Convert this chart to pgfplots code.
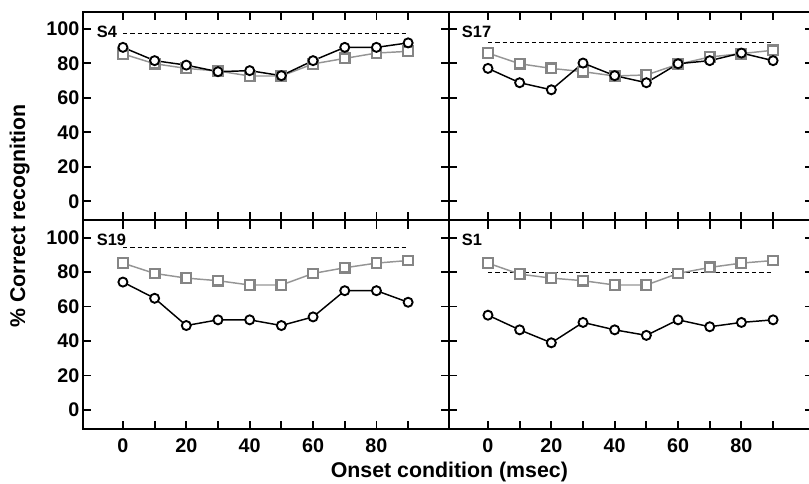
\documentclass[border=0pt]{standalone}
\usepackage{fontspec}
\setmainfont{Liberation Sans}
\usepackage{pgfplots}
\pgfplotsset{compat=1.18}
\definecolor{sqgray}{HTML}{858585}
\definecolor{lngray}{HTML}{959595}
\pgfplotsset{
  panel/.style={scale only axis, height=156.5pt, ymin=-11, ymax=110,
    axis line style={line width=1.5pt}, tick align=inside, tick pos=both,
    major tick length=6.3pt, every tick/.style={black, line width=1.4pt},
    xtick={0,10,...,90}, ytick={0,20,...,100},
    tick label style={font=\fontsize{14.8}{17}\selectfont\bfseries},
    yticklabel style={xshift=0.8pt},
    xticklabel style={yshift=-3.5pt},
    clip=false},
  leftp/.style={panel, xmin=-12.6, xmax=102.9, width=274.5pt, yticklabels={0,20,40,60,80,100}},
  rightp/.style={panel, xmin=-12.3, xmax=102.6, width=273pt, yticklabels={}},
  topp/.style={xticklabels={}},
  botp/.style={xticklabels={0,,20,,40,,60,,80,}},
  sq/.style={lngray, line width=1.1pt, mark=square*, mark size=3.6pt, mark options={fill=white, draw=sqgray, line width=1.7pt, solid}},
  ci/.style={black, line width=1.1pt, mark=*, mark size=3.4pt, mark options={fill=white, draw=black, line width=1.4pt, solid}},
  dl/.style={black, line width=0.9pt, dash pattern=on 3.2pt off 2.3pt, no marks},
}
\newcommand{\plab}[1]{\node[anchor=west, inner sep=0pt, font=\fontsize{12.3}{14}\selectfont\bfseries] at (axis cs:-8.3,98.5) {#1};}
\begin{document}
\begin{tikzpicture}
% S4
\begin{axis}[leftp, topp, at={(62.25pt,197pt)}, anchor=south west]
\addplot[dl] coordinates {(0,97.3) (90,97.3)};
\addplot[sq] coordinates {(0,85.5) (10,79.8) (20,77.1) (30,75.6) (40,72.7) (50,72.7) (60,79.7) (70,82.9) (80,86) (90,87)};
\addplot[ci] coordinates {(0,89.3) (10,81.6) (20,79) (30,75.2) (40,75.8) (50,72.9) (60,81.6) (70,89.3) (80,89.3) (90,91.9)};
\plab{S4}
\end{axis}
% S17
\begin{axis}[rightp, topp, at={(336.75pt,197pt)}, anchor=south west]
\addplot[dl] coordinates {(0,91.9) (90,91.9)};
\addplot[sq] coordinates {(0,86) (10,79.8) (20,77.1) (30,75.2) (40,72.7) (50,73.3) (60,79.5) (70,83.7) (80,85.7) (90,87.6)};
\addplot[ci] coordinates {(0,77.1) (10,68.8) (20,64.7) (30,80.2) (40,72.9) (50,68.8) (60,79.8) (70,81.6) (80,86) (90,81.6)};
\plab{S17}
\end{axis}
% S19
\begin{axis}[leftp, botp, at={(62.25pt,40.5pt)}, anchor=south west]
\addplot[dl] coordinates {(0,94.2) (90,94.2)};
\addplot[sq] coordinates {(0,85.2) (10,79.2) (20,76.5) (30,75) (40,72.5) (50,72.5) (60,79.2) (70,82.5) (80,85.2) (90,86.7)};
\addplot[ci] coordinates {(0,74.2) (10,64.8) (20,49) (30,52.3) (40,52.3) (50,49) (60,54) (70,69.2) (80,69.2) (90,62.5)};
\plab{S19}
\end{axis}
% S1
\begin{axis}[rightp, botp, at={(336.75pt,40.5pt)}, anchor=south west]
\addplot[dl] coordinates {(0,79.6) (90,79.6)};
\addplot[sq] coordinates {(0,85.2) (10,78.8) (20,76.5) (30,75) (40,72.5) (50,72.5) (60,79.2) (70,82.7) (80,85.2) (90,86.7)};
\addplot[ci] coordinates {(0,55) (10,46.5) (20,39) (30,50.8) (40,46.5) (50,43.3) (60,52.3) (70,48.3) (80,50.8) (90,52.3)};
\plab{S1}
\end{axis}
\node[anchor=base, font=\fontsize{16}{19}\selectfont\bfseries] at (337pt,4.5pt) {Onset condition (msec)};
\node[anchor=base, rotate=90, font=\fontsize{16}{19}\selectfont\bfseries] at (18.75pt,200.25pt) {\% Correct recognition};
\pgfresetboundingbox
\path[use as bounding box] (0,0) rectangle (606.75pt,362.25pt);
\end{tikzpicture}
\end{document}
